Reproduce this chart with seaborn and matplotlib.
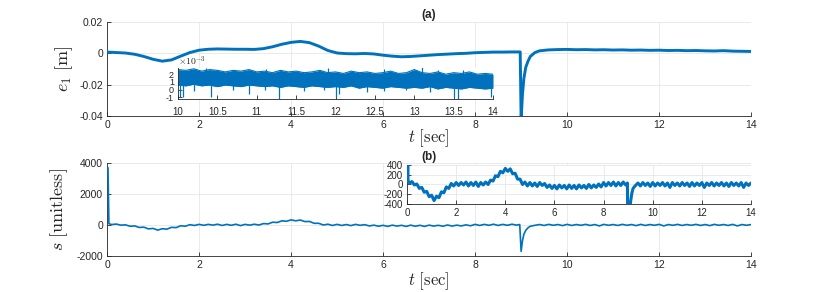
import numpy as np
import pandas as pd
import seaborn as sns
import matplotlib.pyplot as plt

# e1 tracking error, in units of 1e-3 m
e1_pre_t = np.arange(0, 45) / 5  # 0 .. 8.8 s
e1_pre = [0.8, 0.5, 0.2, -0.6, -2.0, -3.8, -5.0, -4.2, -1.8, 0.5,
          2.0, 2.6, 2.8, 2.7, 2.6, 2.6, 2.5, 3.0, 4.2, 5.8,
          7.0, 7.6, 6.8, 4.6, 1.8, 0.2, -0.2, -0.3, -0.1, -0.4,
          -1.2, -1.8, -2.2, -2.0, -1.6, -1.2, -0.8, -0.5, -0.2, 0.0,
          0.4, 0.6, 0.8, 0.8, 0.9]
e1_dip_t = [8.98, 9.0, 9.03, 9.06, 9.1, 9.15, 9.2, 9.3, 9.4, 9.6]
e1_dip = [0.9, -42.0, -26.0, -16.0, -9.0, -5.0, -2.0, 0.5, 1.6, 2.2]
e1_post_t = np.arange(49, 71) / 5  # 9.8 .. 14.0 s
e1_post = [2.4, 2.5, 2.3, 2.4, 2.2, 2.3, 2.1, 2.2, 2.0, 2.1,
           1.9, 2.0, 1.8, 1.9, 1.7, 1.8, 1.6, 1.5, 1.7, 1.4,
           1.3, 1.2]

# zoom window 10..14 s: noise band edges and isolated spikes (1e-3 m)
band_t = 10 + np.arange(41) / 10
band_hi = [2.6, 2.5, 2.7, 2.4, 2.6, 2.5, 2.3, 2.5, 2.4, 2.6,
           2.3, 2.4, 2.2, 2.5, 2.3, 2.4, 2.2, 2.3, 2.5, 2.2,
           2.3, 2.1, 2.4, 2.2, 2.3, 2.1, 2.2, 2.4, 2.1, 2.2,
           2.6, 2.2, 2.1, 2.3, 2.0, 2.2, 2.1, 2.3, 2.0, 2.1,
           2.0]
band_lo = [0.6, 0.5, 0.7, 0.5, 0.6, 0.4, 0.6, 0.5, 0.4, 0.6,
           0.5, 0.4, 0.5, 0.3, 0.5, 0.4, 0.3, 0.5, 0.4, 0.3,
           0.4, 0.3, 0.5, 0.2, 0.4, 0.3, 0.2, 0.4, 0.3, 0.2,
           0.3, 0.2, 0.4, 0.1, 0.3, 0.2, 0.1, 0.3, 0.2, 0.1,
           0.2]
spike_t = [10.02, 10.06, 10.2, 10.42, 10.7, 10.9, 11.1, 11.28, 11.6, 11.85,
           12.0, 12.05, 12.4, 12.62, 12.9, 13.2, 13.5, 13.55, 13.98]
spike_v = [-0.9, -1.0, -0.2, -1.0, 0.0, -0.5, -0.1, -1.2, -0.2, 0.0,
           -1.0, -0.6, -0.3, -0.2, -0.1, -0.3, -1.0, -1.2, -1.0]
peak_t = [10.35, 11.12, 11.9, 12.62, 13.1, 13.3, 13.62]
peak_v = [2.8, 2.7, 2.8, 2.7, 2.9, 2.6, 2.6]

# sliding variable s
s_head_t = [0.02, 0.04]
s_head = [3700, 80]
s_pre_t = np.arange(1, 90) / 10  # 0.1 .. 8.9 s
s_pre = [30, 60, -10, 10, -80, -60, -160, -140, -250, -220,
         -330, -240, -270, -150, -170, -50, -80, 20, -30, 40,
         -20, 40, -10, 50, -30, 40, -20, 50, -40, 40,
         -10, 50, 0, 90, 70, 180, 160, 270, 240, 330,
         270, 320, 220, 230, 110, 110, 0, 50, -30, 40,
         -30, 30, -40, 40, -20, 20, -60, -10, -80, -20,
         -90, -10, -70, -20, -90, -10, -80, -20, -90, -10,
         -70, -20, -80, 0, -70, -10, -60, 10, -50, 40,
         -30, 40, -20, 50, -30, 40, -20, 50, -10]
s_dip_t = [8.97, 9.0, 9.03, 9.06, 9.1, 9.15, 9.2, 9.3]
s_dip = [30, -1700, -1000, -600, -350, -180, -80, -20]
s_post_t = np.arange(94, 141) / 10  # 9.4 .. 14.0 s
s_post = [30, -30, 40, -20, 30, -40, 40, -30, 30, -20,
          40, -30, 30, -60, 40, -20, 30, -30, 40, -20,
          30, -40, 40, -30, 30, -20, 40, -60, 30, -20,
          40, -30, 30, -20, 40, -30, 30, -40, 40, -20,
          30, -30, 40, -60, 30, -20, 30]

e1 = pd.DataFrame({"t": np.concatenate([e1_pre_t, e1_dip_t, e1_post_t]),
                   "mm": e1_pre + e1_dip + e1_post})
e1["m"] = e1["mm"] / 1000
s = pd.DataFrame({"t": np.concatenate([s_head_t, s_pre_t, s_dip_t, s_post_t]),
                  "s": s_head + s_pre + s_dip + s_post})

blue = "#0072BD"
sns.set_theme(style="white")
plt.rcParams["font.family"] = ["Liberation Sans", "DejaVu Sans"]
plt.rcParams["mathtext.fontset"] = "cm"
plt.rcParams["axes.unicode_minus"] = False


def style(ax, size=7.5, grid=True):
    for side in ["top", "right"]:
        ax.spines[side].set_visible(False)
    for side in ["left", "bottom"]:
        ax.spines[side].set_color("#262626")
        ax.spines[side].set_linewidth(0.6)
    ax.tick_params(direction="in", length=3, width=0.6, labelsize=size,
                   colors="#262626", pad=3, left=True, bottom=True)
    if grid:
        ax.grid(True, color="#e6e6e6", linewidth=0.6)
        ax.set_axisbelow(True)
    ax.set_xlabel("")
    ax.set_ylabel("")


fig = plt.figure(figsize=(8.3, 2.92), dpi=100)
ax_a = fig.add_axes([0.129, 0.6027, 0.776, 0.322])
ax_b = fig.add_axes([0.129, 0.1233, 0.776, 0.3185])
in_a = fig.add_axes([0.2145, 0.661, 0.3795, 0.106])
in_b = fig.add_axes([0.4904, 0.3014, 0.4144, 0.1336])

# (a) e1
sns.lineplot(data=e1, x="t", y="m", ax=ax_a, color=blue, lw=2.1,
             estimator=None, sort=False, zorder=3)
style(ax_a)
ax_a.set_xlim(0, 14)
ax_a.set_ylim(-0.04, 0.02)
ax_a.set_xticks(range(0, 15, 2))
ax_a.set_yticks([-0.04, -0.02, 0, 0.02])
ax_a.set_yticklabels(["-0.04", "-0.02", "0", "0.02"])
ax_a.set_ylabel(r"$e_1\ [\mathrm{m}]$", fontsize=13)
ax_a.yaxis.set_label_coords(-0.05, 0.5)
ax_a.set_xlabel(r"$t\ [\mathrm{sec}]$", fontsize=12, labelpad=-2)
ax_a.set_title("(a)", fontsize=8.5, fontweight="bold", pad=3)

# inset (a): zoom on 10..14 s
style(in_a, size=6.5, grid=False)
in_a.set_facecolor("white")
sns.lineplot(x=band_t, y=band_hi, ax=in_a, color=blue, lw=0.8)
sns.lineplot(x=band_t, y=band_lo, ax=in_a, color=blue, lw=0.8)
in_a.fill_between(band_t, band_lo, band_hi, color=blue, lw=0)
in_a.vlines(spike_t, spike_v, 1.0, color=blue, lw=0.9)
in_a.vlines(peak_t, 1.5, peak_v, color=blue, lw=0.9)
in_a.set_xlim(10, 14)
in_a.set_ylim(-1.2, 2.8)
in_a.set_xticks(np.arange(10, 14.01, 0.5))
in_a.set_xticklabels(["10", "10.5", "11", "11.5", "12", "12.5", "13", "13.5", "14"])
in_a.set_yticks([-1, 0, 1, 2])
in_a.tick_params(axis="x", pad=6, labelsize=7)
in_a.text(0.0, 1.0, r"$\times10^{-3}$", transform=in_a.transAxes,
          fontsize=7, ha="left", va="bottom", color="#262626",
          family="DejaVu Sans")

# (b) s
sns.lineplot(data=s, x="t", y="s", ax=ax_b, color=blue, lw=1.2,
             estimator=None, sort=False, zorder=3)
style(ax_b)
ax_b.set_xlim(0, 14)
ax_b.set_ylim(-2000, 4000)
ax_b.set_xticks(range(0, 15, 2))
ax_b.set_yticks([-2000, 0, 2000, 4000])
ax_b.set_ylabel(r"$s\ [\mathrm{unitless}]$", fontsize=13)
ax_b.yaxis.set_label_coords(-0.057, 0.5)
ax_b.set_xlabel(r"$t\ [\mathrm{sec}]$", fontsize=12, labelpad=0)
ax_b.set_title("(b)", fontsize=8.5, fontweight="bold", pad=2)

sns.lineplot(data=s, x="t", y="s", ax=in_b, color=blue, lw=2.2,
             estimator=None, sort=False, zorder=3)
style(in_b, size=7)
in_b.set_facecolor("white")
in_b.set_xlim(0, 14)
in_b.set_ylim(-400, 400)
in_b.set_xticks(range(0, 15, 2))
in_b.set_yticks([-400, -200, 0, 200, 400])

fig.savefig("out.png", dpi=100)
